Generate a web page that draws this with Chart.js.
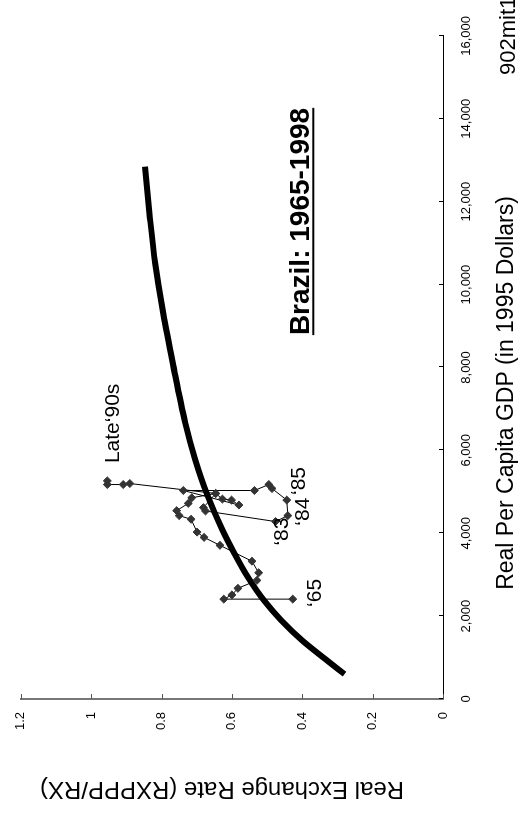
<!DOCTYPE html>
<html>
<head>
<meta charset="utf-8">
<script src="https://cdn.jsdelivr.net/npm/chart.js@4.4.1/dist/chart.umd.min.js"></script>
<style>
html, body { margin: 0; padding: 0; background: #fff; overflow: hidden; }
#wrap {
    position: absolute; left: 0; top: 0;
    width: 813px; height: 524px;
    transform-origin: 0 0;
    transform: translate(0, 813px) rotate(-90deg);
}
</style>
</head>
<body>
<div id="wrap"><canvas id="myChart" width="813" height="524"></canvas></div>
<script>
// Brazil path, 1965-1998
const gdp = [2410, 2410, 2512, 2671, 2862, 3046, 3325, 3708, 3899, 4027, 4337, 4425, 4545, 4720, 4856,
    4959, 4617, 4537, 4282, 4425, 4800, 5079, 5175, 5031, 5031,
    4680, 4800, 4824, 4959, 5199, 5175, 5175, 5263];
const rx = [0.427, 0.623, 0.600, 0.583, 0.529, 0.524, 0.543, 0.634, 0.679, 0.699, 0.716, 0.750, 0.757, 0.724, 0.714,
    0.646, 0.681, 0.675, 0.476, 0.441, 0.444, 0.486, 0.495, 0.536, 0.738,
    0.580, 0.601, 0.627, 0.646, 0.890, 0.909, 0.954, 0.954];

// fitted curve, points
const curveGdp = [600, 1000, 1411, 1900, 2368, 2918, 3500, 4100, 4928, 5800, 6674, 8109, 9305, 10501, 11697, 12845];
const curveRx = [0.280, 0.340, 0.400, 0.460, 0.508, 0.553, 0.592, 0.628, 0.670, 0.705, 0.733, 0.768, 0.795, 0.818, 0.834, 0.847];

const gdpTicks = [0, 2000, 4000, 6000, 8000, 10000, 12000, 14000, 16000];
const rxTicks = [0, 0.2, 0.4, 0.6, 0.8, 1, 1.2];

// text notes on the plot
const noteText = ['Late\u201890s', '\u201865', '\u201883', '\u201884', '\u201885'];
const noteGdp = [6650, 2560, 4040, 4520, 5260];
const noteRx = [0.937, 0.364, 0.456, 0.398, 0.409];

const FONT = '"Liberation Sans", Arial, sans-serif';

const extras = {
    id: 'extras',
    afterDraw(chart) {
        const ctx = chart.ctx;
        const xs = chart.scales.x, ys = chart.scales.y;
        ctx.save();
        // inside tick marks
        ctx.strokeStyle = '#000';
        ctx.lineWidth = 1;
        gdpTicks.forEach(v => {
            const px = Math.round(xs.getPixelForValue(v)) + 0.5;
            ctx.beginPath();
            ctx.moveTo(px, ys.bottom);
            ctx.lineTo(px, ys.bottom - 4);
            ctx.stroke();
        });
        ctx.strokeStyle = '#555';
        rxTicks.forEach(v => {
            const py = Math.round(ys.getPixelForValue(v)) + 0.5;
            ctx.beginPath();
            ctx.moveTo(xs.left, py);
            ctx.lineTo(xs.left + 5, py);
            ctx.stroke();
        });

        ctx.fillStyle = '#000';
        // notes
        ctx.font = '21px ' + FONT;
        ctx.textAlign = 'center';
        ctx.textBaseline = 'middle';
        noteText.forEach((t, i) => {
            ctx.fillText(t, xs.getPixelForValue(noteGdp[i]), ys.getPixelForValue(noteRx[i]));
        });

        // title on plot
        ctx.font = 'bold 28px ' + FONT;
        ctx.textAlign = 'left';
        ctx.textBaseline = 'alphabetic';
        const tx = xs.getPixelForValue(8780), ty = ys.getPixelForValue(0.38);
        ctx.fillText('Brazil: 1965-1998', tx, ty);
        const w = ctx.measureText('Brazil: 1965-1998').width;
        ctx.fillRect(tx, ty + 3, w, 2);

        // axis titles
        ctx.font = '23px ' + FONT;
        ctx.textAlign = 'center';
        ctx.fillText('Real Per Capita GDP (in 1995 Dollars)', 420, 513);
        ctx.save();
        ctx.translate(31, 222);
        ctx.rotate(-Math.PI / 2);
        ctx.font = '24px ' + FONT;
        ctx.fillText('Real Exchange Rate (RXPPP/RX)', 0, 0);
        ctx.restore();

        ctx.font = '22px ' + FONT;
        ctx.textAlign = 'left';
        ctx.fillText('902mit1', 738, 515);
        ctx.restore();
    }
};

new Chart(document.getElementById('myChart'), {
    type: 'scatter',
    data: {
        datasets: [{
            label: 'Brazil',
            data: gdp.map((g, i) => ({x: g, y: rx[i]})),
            showLine: true,
            borderColor: '#000',
            borderWidth: 1,
            pointStyle: 'rectRot',
            pointRadius: 4,
            pointBackgroundColor: '#333',
            pointBorderColor: '#333',
            pointBorderWidth: 1
        }, {
            label: 'Fit',
            data: curveGdp.map((g, i) => ({x: g, y: curveRx[i]})),
            showLine: true,
            borderColor: '#000',
            borderWidth: 6,
            pointRadius: 0,
            cubicInterpolationMode: 'monotone'
        }]
    },
    options: {
        responsive: false,
        animation: false,
        devicePixelRatio: 1,
        layout: { padding: { top: 18, right: 30, left: 0, bottom: 0 } },
        scales: {
            x: {
                type: 'linear',
                min: 0, max: 16000,
                afterFit(s) { s.height = 81; },
                afterBuildTicks(s) { s.ticks = gdpTicks.map(v => ({value: v})); },
                grid: { display: false, drawTicks: false },
                border: { display: true, color: '#000', width: 1 },
                ticks: {
                    padding: 16,
                    color: '#000',
                    font: { family: FONT, size: 13 },
                    callback: v => v.toLocaleString('en-US')
                }
            },
            y: {
                type: 'linear',
                min: 0, max: 1.2,
                afterFit(s) { s.width = 114; },
                afterBuildTicks(s) { s.ticks = rxTicks.map(v => ({value: v})); },
                grid: { display: false, drawTicks: false },
                border: { display: true, color: '#777', width: 2 },
                ticks: {
                    padding: 13,
                    color: '#000',
                    font: { family: FONT, size: 13 },
                    callback: v => String(v)
                }
            }
        },
        plugins: {
            legend: { display: false },
            tooltip: { enabled: false }
        }
    },
    plugins: [extras]
});
</script>
</body>
</html>
